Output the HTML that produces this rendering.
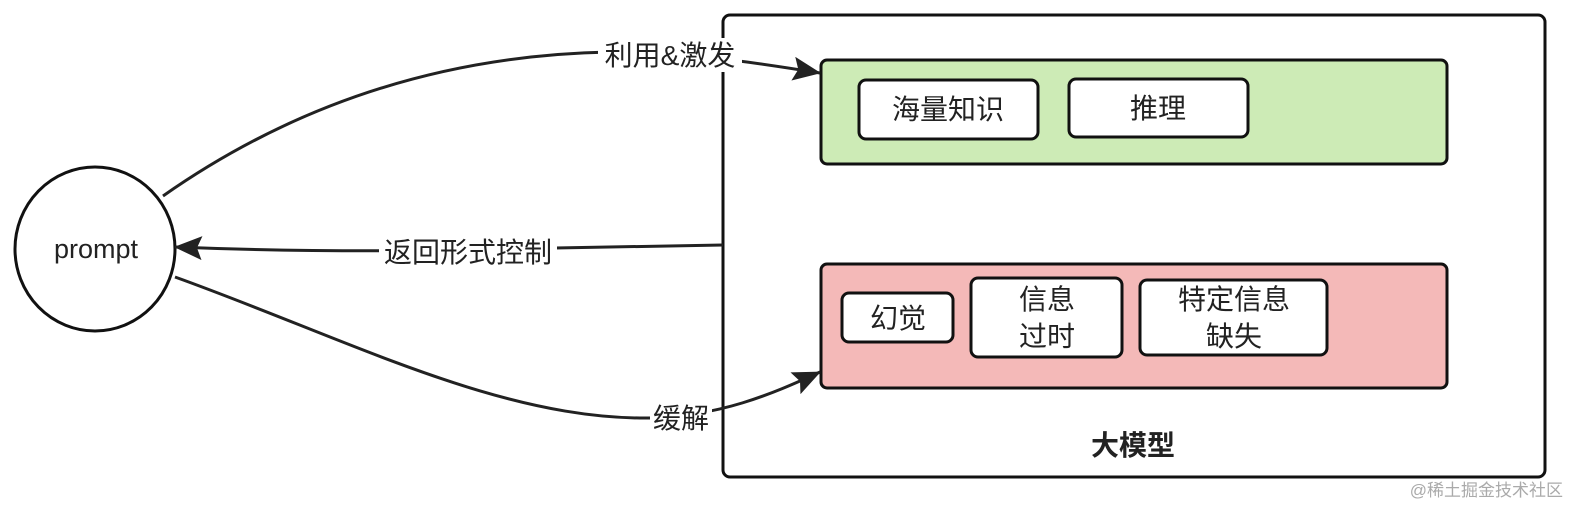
<!DOCTYPE html>
<html><head><meta charset="utf-8"><style>
body{margin:0;background:#fff;width:1588px;height:512px;overflow:hidden}
text{font-family:"Liberation Sans","Noto Sans CJK SC",sans-serif;fill:#222}
</style></head><body>
<svg width="1588" height="512" viewBox="0 0 1588 512">
<defs>
<marker id="b" markerWidth="28" markerHeight="24" refX="27" refY="12" orient="auto" markerUnits="userSpaceOnUse"><path d="M0,0 L28,12 L0,24 L5,12 z" fill="#222"/></marker></defs>
<rect x="723" y="15" width="822" height="462" rx="7" fill="#fff" stroke="#111" stroke-width="3"/>
<rect x="821" y="60" width="626" height="104" rx="6" fill="#cdebb6" stroke="#111" stroke-width="3"/>
<rect x="821" y="264" width="626" height="124" rx="6" fill="#f4b9b8" stroke="#111" stroke-width="3"/>
<rect x="859" y="80" width="179" height="59" rx="7" fill="#fff" stroke="#111" stroke-width="3"/>
<rect x="1069" y="79" width="179" height="58" rx="7" fill="#fff" stroke="#111" stroke-width="3"/>
<rect x="842" y="293" width="111" height="49" rx="7" fill="#fff" stroke="#111" stroke-width="3"/>
<rect x="971" y="278" width="151" height="79" rx="7" fill="#fff" stroke="#111" stroke-width="3"/>
<rect x="1140" y="280" width="187" height="75" rx="7" fill="#fff" stroke="#111" stroke-width="3"/>
<g font-size="28" text-anchor="middle">
<text x="948" y="119">海量知识</text>
<text x="1158" y="118">推理</text>
<text x="898" y="328">幻觉</text>
<text x="1047" y="309">信息</text><text x="1047" y="346">过时</text>
<text x="1234" y="309">特定信息</text><text x="1234" y="346">缺失</text>
<text x="1133" y="455" font-weight="bold">大模型</text>
</g>
<ellipse cx="95" cy="249" rx="80" ry="82" fill="#fff" stroke="#111" stroke-width="3"/>
<text x="96" y="258" font-size="27" text-anchor="middle">prompt</text>
<g fill="none" stroke="#222" stroke-width="3">
<path d="M163,196 C300,100 450,55 610,52 C680,52 740,60 820,73" marker-end="url(#b)"/>
<path d="M723,245 L555,248 C420,252 300,252 175,247" marker-end="url(#b)"/>
<path d="M175,277 C350,340 500,420 650,418 C720,416 770,395 820,372" marker-end="url(#b)"/>
</g>
<rect x="598" y="38" width="144" height="34" fill="#fff"/>
<rect x="379" y="234" width="178" height="34" fill="#fff"/>
<rect x="650" y="400" width="62" height="34" fill="#fff"/>
<g font-size="28" text-anchor="middle">
<text x="670" y="65">利用&amp;激发</text>
<text x="468" y="262">返回形式控制</text>
<text x="681" y="428">缓解</text>
</g>
<text x="1563" y="496" font-size="17" text-anchor="end" style="fill:#aaa">@稀土掘金技术社区</text>
</svg>
</body></html>
